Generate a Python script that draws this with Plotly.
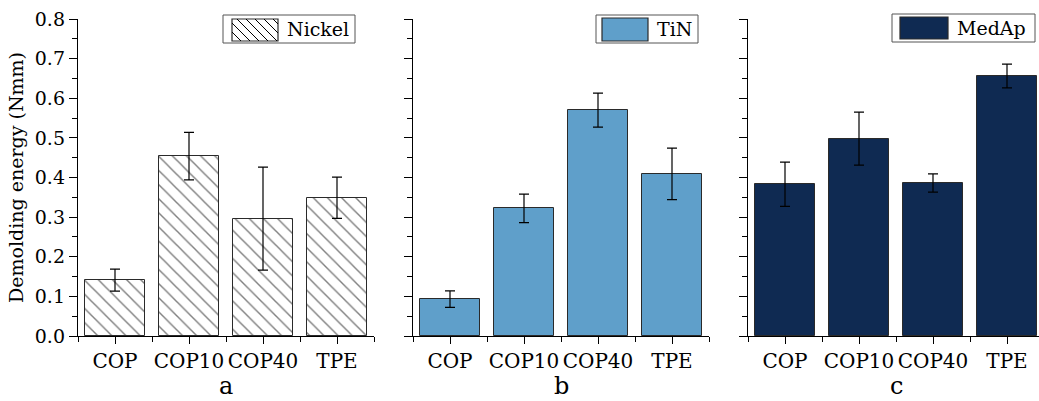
import plotly.graph_objects as go

# Demolding energy per insert material and polymer
categories = ["COP", "COP10", "COP40", "TPE"]

nickel = [0.141, 0.454, 0.296, 0.349]
nickel_err = [0.028, 0.060, 0.130, 0.052]

tin = [0.093, 0.322, 0.570, 0.409]
tin_err = [0.021, 0.036, 0.043, 0.065]

medap = [0.383, 0.498, 0.386, 0.656]
medap_err = [0.056, 0.067, 0.023, 0.030]

series_names = ["Nickel", "TiN", "MedAp"]
panel_labels = ["a", "b", "c"]

FONT = "DejaVu Serif"
W, H = 1039, 401
M_T, M_B = 19, 65
PLOT_H = H - M_T - M_B


def px(x):
    return x / W


def py(y):
    return (H - M_B - y) / PLOT_H


xpos = list(range(len(categories)))
bar_line = dict(color="#2a2a2a", width=1)
err_style = dict(color="black", thickness=1.2, width=5)

fig = go.Figure()

fig.add_trace(go.Bar(
    x=xpos, y=nickel, width=0.81, xaxis="x", yaxis="y",
    error_y=dict(type="data", array=nickel_err, **err_style),
    marker=dict(color="white", line=bar_line,
                pattern=dict(shape="\\", fgcolor="black", bgcolor="white",
                             size=10, solidity=0.14)),
    showlegend=False, name=series_names[0]))

fig.add_trace(go.Bar(
    x=xpos, y=tin, width=0.81, xaxis="x2", yaxis="y2",
    error_y=dict(type="data", array=tin_err, **err_style),
    marker=dict(color="#5F9FCA", line=bar_line),
    showlegend=False, name=series_names[1]))

fig.add_trace(go.Bar(
    x=xpos, y=medap, width=0.81, xaxis="x3", yaxis="y3",
    error_y=dict(type="data", array=medap_err, **err_style),
    marker=dict(color="#0F2A52", line=bar_line),
    showlegend=False, name=series_names[2]))

# panel x-extents in pixels
panels = [(78, 374), (413, 709), (748, 1044)]

ytickfont = dict(family=FONT, size=19, color="black")
xtickfont = dict(family=FONT, size=20, color="black")

layout = dict(
    width=W, height=H,
    margin=dict(l=0, r=0, t=M_T, b=M_B),
    paper_bgcolor="white", plot_bgcolor="white",
    font=dict(family=FONT, color="black"),
    bargap=0,
)

for i, (x0, x1) in enumerate(panels):
    sfx = "" if i == 0 else str(i + 1)
    d1 = min(x1, W)
    rng_end = -0.5 + (d1 - x0) / ((x1 - x0) / 4.0)
    layout["xaxis" + sfx] = dict(
        domain=[px(x0), px(d1)], range=[-0.5, rng_end],
        anchor="y" + sfx, automargin=False, tickangle=0,
        tickmode="array", tickvals=xpos, ticktext=categories,
        ticks="outside", ticklen=7, tickwidth=1.2, tickcolor="black",
        minor=dict(tickmode="array", tickvals=[-0.5, 0.5, 1.5, 2.5, 3.5],
                   ticks="outside", ticklen=5, tickwidth=1.2, tickcolor="black"),
        showline=True, linecolor="black", linewidth=1.4,
        showgrid=False, zeroline=False, tickfont=xtickfont,
    )
    ya = dict(
        range=[0, 0.8], anchor="x" + sfx, automargin=False,
        tickmode="linear", tick0=0, dtick=0.1, tickformat=".1f",
        ticks="outside", ticklen=8, tickwidth=1.2, tickcolor="black",
        minor=dict(dtick=0.05, ticks="outside", ticklen=5, tickwidth=1.2,
                   tickcolor="black"),
        showline=True, linecolor="black", linewidth=1.4,
        showgrid=False, zeroline=False, tickfont=ytickfont,
        showticklabels=(i == 0),
    )
    if i == 0:
        ya["title"] = dict(text="Demolding energy (Nmm)",
                           font=dict(family=FONT, size=19, color="black"),
                           standoff=6)
    layout["yaxis" + sfx] = ya

fig.update_layout(**layout)

# panel letters
annotations = []
for i, (x0, x1) in enumerate(panels):
    annotations.append(dict(
        xref="paper", yref="paper", x=px((x0 + x1) / 2), y=py(386),
        text=panel_labels[i], showarrow=False,
        font=dict(family=FONT, size=24, color="black"),
        xanchor="center", yanchor="middle"))

# legend boxes: (frame x0, x1, y0, y1), (patch x0, x1, y0, y1), text x
legend_boxes = [
    ((223, 355, 15, 43), (232, 278, 19, 41), 285),
    ((596, 698, 15, 43), (602, 648, 18, 41), 655),
    ((892, 1035, 14, 42), (900, 948, 17, 39), 955),
]
legend_fills = ["white", "#5F9FCA", "#0F2A52"]

shapes = []
for i, (frame, patch, tx) in enumerate(legend_boxes):
    fx0, fx1, fy0, fy1 = frame
    shapes.append(dict(type="rect", xref="paper", yref="paper",
                       x0=px(fx0), x1=px(fx1), y0=py(fy1), y1=py(fy0),
                       line=dict(color="#555555", width=1), fillcolor="white",
                       layer="above"))
    sx0, sx1, sy0, sy1 = patch
    shapes.append(dict(type="rect", xref="paper", yref="paper",
                       x0=px(sx0), x1=px(sx1), y0=py(sy1), y1=py(sy0),
                       line=dict(color="#2a2a2a", width=1.2),
                       fillcolor=legend_fills[i], layer="above"))
    if i == 0:
        # hatch lines for the patterned swatch
        h = sy1 - sy0
        segs = []
        c = -h
        while c < (sx1 - sx0):
            ax, ay = sx0 + c, sy0
            if ax < sx0:
                ay = sy0 + (sx0 - ax)
                ax = sx0
            bx, by = sx0 + c + h, sy1
            if bx > sx1:
                by = sy1 - (bx - sx1)
                bx = sx1
            if bx > ax:
                segs.append(f"M{px(ax)},{py(ay)} L{px(bx)},{py(by)}")
            c += 9
        shapes.append(dict(type="path", xref="paper", yref="paper",
                           path=" ".join(segs),
                           line=dict(color="black", width=1), layer="above"))
    annotations.append(dict(
        xref="paper", yref="paper", x=px(tx), y=py((fy0 + fy1) / 2),
        text=series_names[i], showarrow=False, xanchor="left", yanchor="middle",
        font=dict(family=FONT, size=19, color="black")))

fig.update_layout(shapes=shapes, annotations=annotations)

fig.write_html("out.html")
